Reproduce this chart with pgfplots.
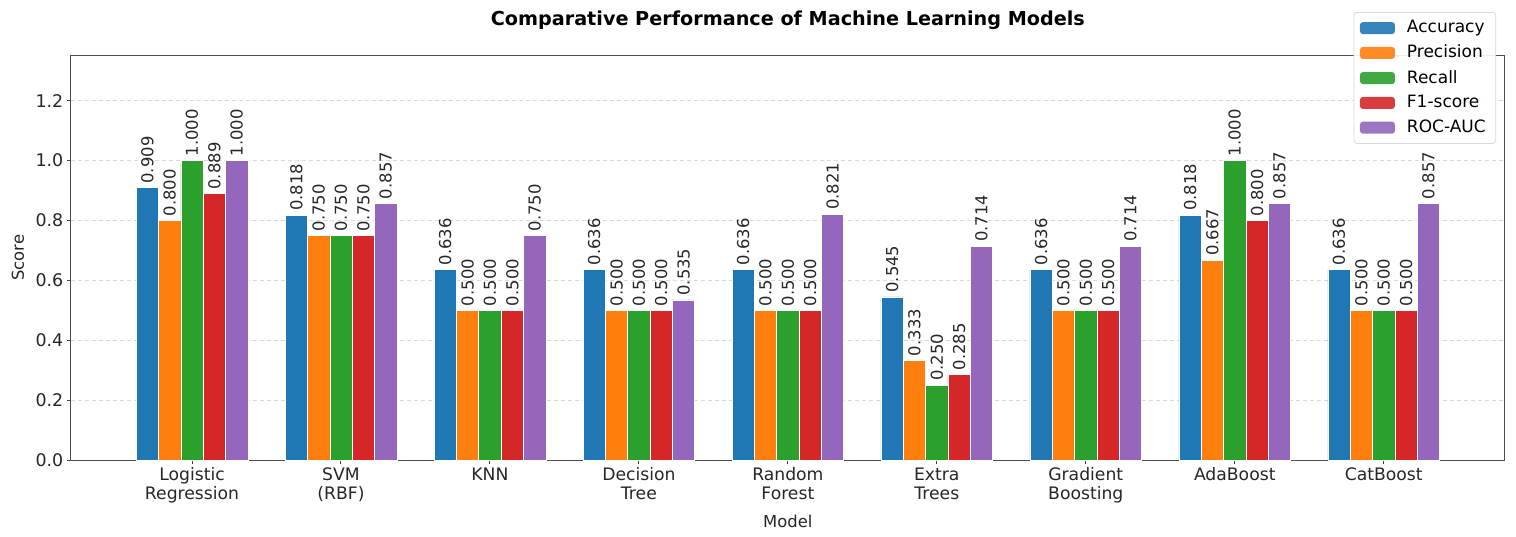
\documentclass[border=0pt]{standalone}
\usepackage{pgfplots}
\pgfplotsset{compat=1.18}
\usepackage{pgfplotstable}
\usepackage{fontspec}
\setmainfont{DejaVu Sans}
\definecolor{c1}{HTML}{1F77B4}
\definecolor{c2}{HTML}{FF7F0E}
\definecolor{c3}{HTML}{2CA02C}
\definecolor{c4}{HTML}{D62728}
\definecolor{c5}{HTML}{9467BD}
\pgfplotstableread{
x acc prec rec f1 roc
0 0.909 0.800 1.000 0.889 1.000
1 0.818 0.750 0.750 0.750 0.857
2 0.636 0.500 0.500 0.500 0.750
3 0.636 0.500 0.500 0.500 0.535
4 0.636 0.500 0.500 0.500 0.821
5 0.545 0.333 0.250 0.285 0.714
6 0.636 0.500 0.500 0.500 0.714
7 0.818 0.667 1.000 0.800 0.857
8 0.636 0.500 0.500 0.500 0.857
}\data
\begin{document}
\begin{tikzpicture}
\begin{axis}[
  scale only axis,
  width=716.9pt, height=202.2pt,
  xmin=-0.8125, xmax=8.8125,
  ymin=0, ymax=1.35,
  ybar, bar width=0.15,
  xtick={0,...,8},
  xticklabels={{Logistic\\Regression},{SVM\\(RBF)},KNN,{Decision\\Tree},{Random\\Forest},{Extra\\Trees},{Gradient\\Boosting},AdaBoost,CatBoost},
  xticklabel style={align=center, font=\fontsize{8.6}{9.5}\selectfont, text=black!85, inner ysep=1.5pt},
  ytick={0,0.2,...,1.2},
  yticklabel style={font=\fontsize{8.7}{10}\selectfont, text=black!85, inner xsep=1.5pt,
    /pgf/number format/.cd, fixed, fixed zerofill, precision=1},
  /pgf/number format/assume math mode=true,
  tick align=outside,
  major tick length=2.2pt,
  tick style={black!75, line width=0.5pt},
  axis line style={black!70, line width=0.5pt},
  xtick pos=bottom, ytick pos=left,
  ymajorgrids,
  major grid style={black!15, dash pattern=on 2pt off 1.5pt, line width=0.4pt},
  nodes near coords={\pgfmathprintnumber[fixed,fixed zerofill,precision=3]{\pgfplotspointmeta}},
  every node near coord/.append style={rotate=90, anchor=west, inner sep=2pt,
     font=\fontsize{8.2}{9}\selectfont, text=black!85},
  xlabel={Model}, ylabel={Score},
  every axis x label/.style={at={(axis description cs:0.5,-0.151)}, anchor=center, font=\fontsize{8.2}{9}\selectfont, text=black!85},
  every axis y label/.style={at={(axis description cs:-0.037,0.5)}, rotate=90, anchor=center, font=\fontsize{8.2}{9}\selectfont, text=black!85},
  title={\bfseries Comparative Performance of Machine Learning Models},
  every axis title shift=0pt,
  title style={at={(axis description cs:0.5,1.088)}, anchor=center, yshift=0pt, font=\fontsize{9.6}{11}\selectfont},
  legend style={at={(axis description cs:0.994,1.108)}, anchor=north east,
    draw=black!15, rounded corners=1.5pt, fill=white, fill opacity=0.9, text opacity=1,
    font=\fontsize{8.5}{10}\selectfont, inner xsep=3pt, inner ysep=2pt, row sep=0.6pt},
  legend cell align=left,
  legend image code/.code={\fill[#1,draw=none] (0pt,-3pt) rectangle (17.5pt,3pt);},
  /tikz/every odd column/.append style={column sep=4pt},
]
\addplot[fill=c1, draw=white, line width=0.3pt, bar shift=-0.3] table[x=x,y=acc]{\data};
\addplot[fill=c2, draw=white, line width=0.3pt, bar shift=-0.15] table[x=x,y=prec]{\data};
\addplot[fill=c3, draw=white, line width=0.3pt, bar shift=0] table[x=x,y=rec]{\data};
\addplot[fill=c4, draw=white, line width=0.3pt, bar shift=0.15] table[x=x,y=f1]{\data};
\addplot[fill=c5, draw=white, line width=0.3pt, bar shift=0.3] table[x=x,y=roc]{\data};
\legend{Accuracy,Precision,Recall,F1-score,ROC-AUC}
\coordinate (bl) at (rel axis cs:0,0);
\coordinate (tr) at (rel axis cs:1,1);
\end{axis}
\pgfresetboundingbox
\path ([xshift=-35.5pt,yshift=-38pt]bl) rectangle ([xshift=5.65pt,yshift=27.85pt]tr);
\end{tikzpicture}
\end{document}
